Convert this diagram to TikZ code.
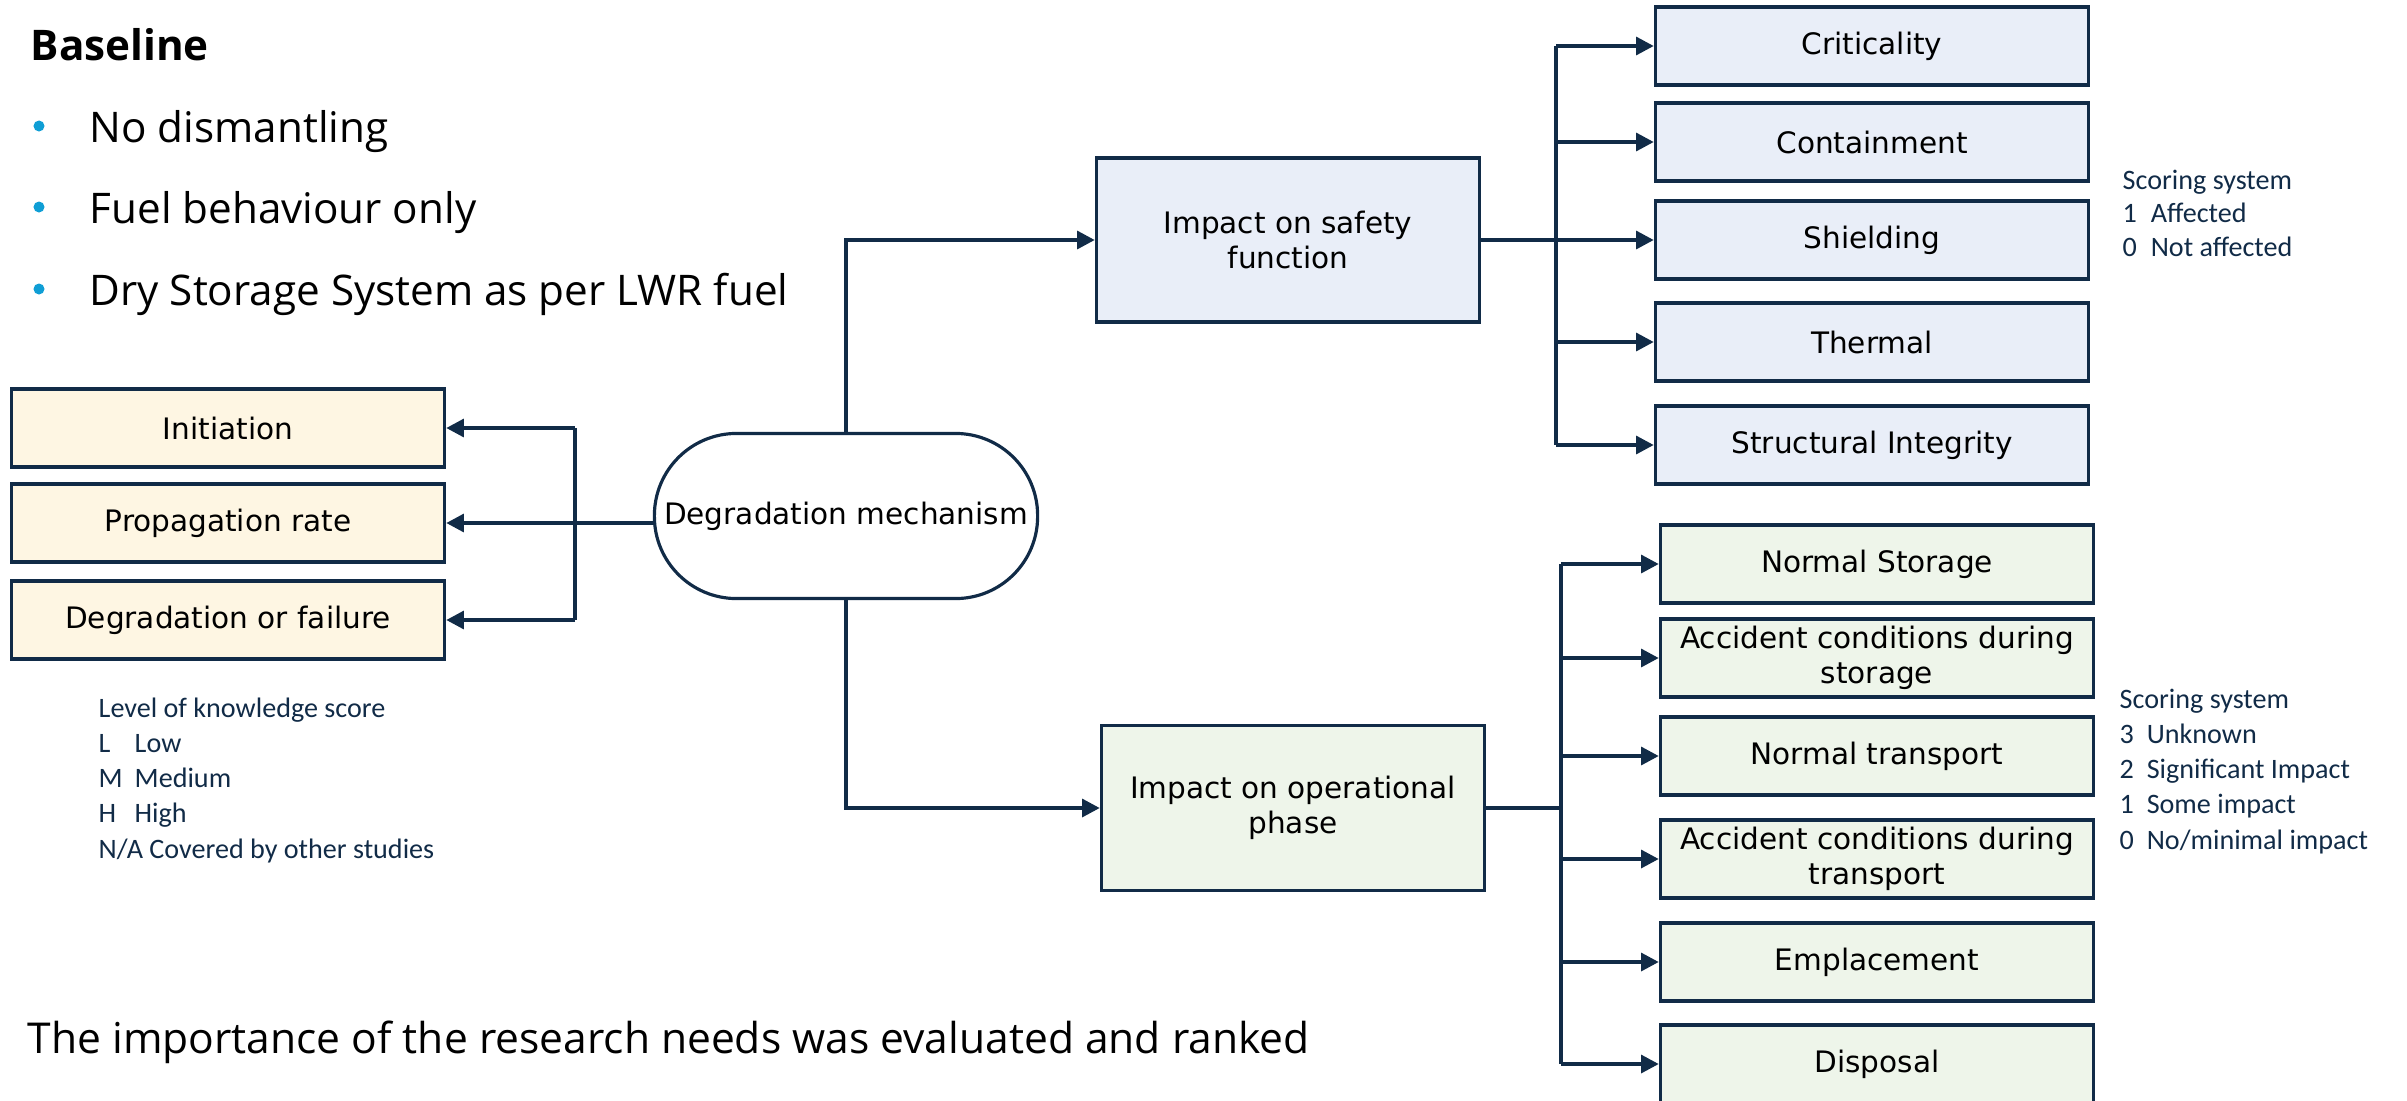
\documentclass[tikz,border=0pt]{standalone}
\usepackage{fontspec}
\setmainfont{Open Sans}
\newfontfamily\boxfont{DejaVu Sans}
\newfontfamily\notefont{Carlito}
\usepackage{tikz}
\usetikzlibrary{arrows.meta}

\definecolor{navy}{HTML}{112B47}
\definecolor{safefill}{HTML}{E9EEF8}
\definecolor{opfill}{HTML}{EEF5EA}
\definecolor{knowfill}{HTML}{FEF6E3}
\definecolor{dotblue}{HTML}{0F9ED5}

\begin{document}
\begin{tikzpicture}[x=0.01cm, y=-0.01cm,
        box/.style={draw=navy, line width=0.9pt, minimum width=4.33cm, minimum height=0.78cm, inner sep=0pt, align=center, font=\boxfont\fontsize{8.4}{9.8}\selectfont},
        bigbox/.style={box, minimum width=3.83cm, minimum height=1.64cm},
        arr/.style={draw=navy, line width=1.1pt, -{Triangle[length=5pt,width=5pt]}},
        bus/.style={draw=navy, line width=1.1pt},
        note/.style={anchor=base west, inner sep=0pt, align=left, text=navy}]
    \useasboundingbox (0,0) rectangle (2407,1100);

    % Baseline
    \node[anchor=base west, inner sep=0pt, font=\bfseries\fontsize{12}{14}\selectfont] (base) at (30,60) {Baseline};
    \foreach \y/\txt in {142/No dismantling, 223/Fuel behaviour only, 305/Dry Storage System as per LWR fuel}{
        \fill[dotblue] (39,\y-16) circle (0.055cm);
        \node[anchor=base west, inner sep=0pt, font=\fontsize{12}{14}\selectfont] at (89,\y) {\txt};
    }

    % degradation mechanism
    \node[draw=navy, line width=0.9pt, rounded corners=0.82cm, minimum width=3.83cm, minimum height=1.65cm, inner sep=0pt, font=\boxfont\fontsize{8.4}{9.8}\selectfont] (deg) at (846,516) {Degradation mechanism};

    % left: level of knowledge
    \node[box, fill=knowfill] (init) at (228,428) {Initiation};
    \node[box, fill=knowfill] (prop) at (228,523) {Propagation rate};
    \node[box, fill=knowfill] (fail) at (228,620) {Degradation or failure};
    \coordinate (lbus) at (575,0);
    \draw[arr] (prop.east -| deg.west) -- (prop.east);
    \draw[bus] (lbus |- init) -- (lbus |- fail);
    \draw[arr] (lbus |- init) -- (init.east);
    \draw[arr] (lbus |- fail) -- (fail.east);
    % base = last line
    \node[note, font=\notefont\fontsize{8}{9.96}\selectfont] (know) at (98,858) {Level of knowledge score\\\makebox[0.36cm][l]{L}Low\\\makebox[0.36cm][l]{M}Medium\\\makebox[0.36cm][l]{H}High\\N/A Covered by other studies};

    % safety function
    \node[bigbox, fill=safefill] (safe) at (1288,240) {Impact on safety\\function};
    \draw[arr] (deg.north) |- (safe.west);
    \node[box, fill=safefill] (crit) at (1872,46) {Criticality};
    \node[box, fill=safefill] (cont) at (1872,142) {Containment};
    \node[box, fill=safefill] (shie) at (1872,240) {Shielding};
    \node[box, fill=safefill] (ther) at (1872,342) {Thermal};
    \node[box, fill=safefill] (stru) at (1872,445) {Structural Integrity};
    \coordinate (sbus) at (1556,0);
    \draw[bus] (safe.east) -- (sbus |- safe);
    \draw[bus] (sbus |- crit) -- (sbus |- stru);
    \foreach \b in {crit,cont,shie,ther,stru}
        \draw[arr] (sbus |- \b) -- (\b.west);
    \node[note, font=\notefont\fontsize{8}{9.4}\selectfont] (score1) at (2122,256) {Scoring system\\\makebox[0.28cm][l]{1}Affected\\\makebox[0.28cm][l]{0}Not affected};

    % operational phase
    \node[bigbox, fill=opfill, minimum height=1.65cm] (oper) at (1293,808) {Impact on operational\\phase};
    \draw[arr] (deg.south) |- (oper.west);
    \node[box, fill=opfill] (nsto) at (1877,564) {Normal Storage};
    \node[box, fill=opfill] (asto) at (1877,658) {Accident conditions during\\storage};
    \node[box, fill=opfill] (ntra) at (1877,756) {Normal transport};
    \node[box, fill=opfill] (atra) at (1877,859) {Accident conditions during\\transport};
    \node[box, fill=opfill] (empl) at (1877,962) {Emplacement};
    \node[box, fill=opfill] (disp) at (1877,1064) {Disposal};
    \coordinate (obus) at (1561,0);
    \draw[bus] (oper.east) -- (obus |- oper);
    \draw[bus] (obus |- nsto) -- (obus |- disp);
    \foreach \b in {nsto,asto,ntra,atra,empl,disp}
        \draw[arr] (obus |- \b) -- (\b.west);
    \node[note, font=\notefont\fontsize{8}{9.96}\selectfont] (score2) at (2119,849) {Scoring system\\\makebox[0.27cm][l]{3}Unknown\\\makebox[0.27cm][l]{2}Significant Impact\\\makebox[0.27cm][l]{1}Some impact\\\makebox[0.27cm][l]{0}No/minimal impact};

    % bottom line
    \node[anchor=base west, inner sep=0pt, font=\fontsize{12.1}{14}\selectfont] (rank) at (27,1053) {The importance of the research needs was evaluated and ranked};
\end{tikzpicture}
\end{document}
